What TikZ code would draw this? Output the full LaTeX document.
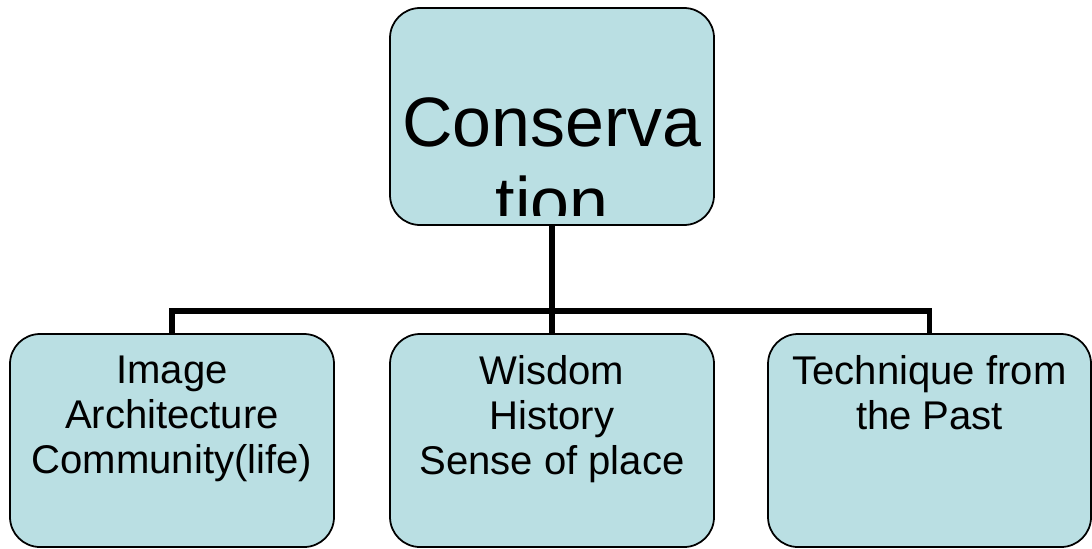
\documentclass[tikz,border=0pt]{standalone}
\usepackage{fontspec}
\setmainfont{Liberation Sans}
\usetikzlibrary{positioning}
\definecolor{boxfill}{RGB}{186,223,227}

\begin{document}
\begin{tikzpicture}[
  box/.style={draw=black,line width=0.5pt,fill=boxfill,rounded corners=0.3cm,minimum width=3.24cm,inner sep=0pt},
  lbl/.style={align=center,inner sep=0pt,font=\fontsize{11.4}{12.8}\selectfont},
  link/.style={line width=1.6pt}]
\useasboundingbox (0,0) rectangle (10.92,5.48);
% top box (text runs out of it and is cut)
\node[box,minimum height=2.17cm] (cons) at (5.52,4.315) {};
\begin{scope}
  \clip (3.90,3.33) rectangle (7.14,5.40);
  \node[anchor=north,inner sep=0pt,align=center,font=\fontsize{19.9}{22.8}\selectfont] (ctext) at (5.52,4.51) {Conserva\\tion};
\end{scope}
% bottom boxes
\node[box,minimum height=2.13cm] (img) at (1.72,1.075) {};
\node[box,minimum height=2.13cm] (wis) at (5.52,1.075) {};
\node[box,minimum height=2.13cm,minimum width=3.23cm] (tech) at (9.295,1.075) {};
\node[lbl,below=0.22cm of img.north] (imgt) {Image\\Architecture\\Community(life)};
\node[lbl,below=0.22cm of wis.north] (wist) {Wisdom\\History\\Sense of place};
\node[lbl,below=0.22cm of tech.north] (techt) {Technique from\\the Past};
% connectors
\coordinate (bar) at (5.52,2.37);
\draw[link] (cons.south) -- (wis.north);
\draw[link] (img.north) |- (bar) -| (tech.north);
\end{tikzpicture}
\end{document}
